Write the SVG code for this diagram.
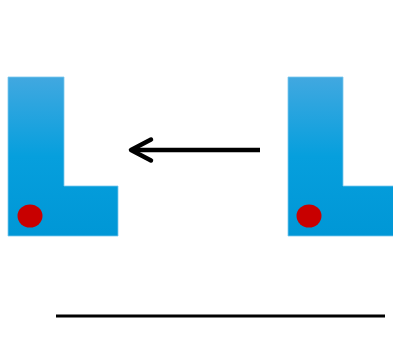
<svg xmlns="http://www.w3.org/2000/svg" width="393" height="351" viewBox="0 0 393 351">
<defs>
<linearGradient id="g" x1="0" y1="0" x2="0" y2="1">
<stop offset="0" stop-color="#41a8e0"/>
<stop offset="0.5" stop-color="#069fdd"/>
<stop offset="1" stop-color="#0097d6"/>
</linearGradient>
<marker id="ah" viewBox="0 0 10 10" refX="1" refY="5" markerWidth="5" markerHeight="5" orient="auto" markerUnits="strokeWidth">
<path d="M9,0.5 L1,5 L9,9.5" fill="none" stroke="#000" stroke-width="2" stroke-linecap="round" stroke-linejoin="round"/>
</marker>
<style>
.L{fill:url(#g);stroke:#7cc8ee;stroke-width:0.8}
.dot{fill:#c80000}
.ln{stroke:#000;fill:none}
</style>
</defs>
<rect width="393" height="351" fill="#fff"/>
<g id="left-L">
<path class="L" d="M8,77 H64 V186 H118 V236 H8 Z"/>
<ellipse class="dot" cx="30" cy="216" rx="12.5" ry="11.5"/>
</g>
<g id="right-L">
<path class="L" d="M288,77 H343 V186 H394 V236 H288 Z"/>
<ellipse class="dot" cx="309" cy="216" rx="12.5" ry="11.5"/>
</g>
<g id="connectors">
<line class="ln" x1="260" y1="150" x2="132" y2="150" stroke-width="4.5"/>
<path class="ln" d="M151,139.5 L131,150 L151,160.5" stroke-width="4.5" stroke-linecap="round" stroke-linejoin="round"/>
<line class="ln" x1="56" y1="316" x2="385" y2="316" stroke-width="3"/>
</g>
</svg>
